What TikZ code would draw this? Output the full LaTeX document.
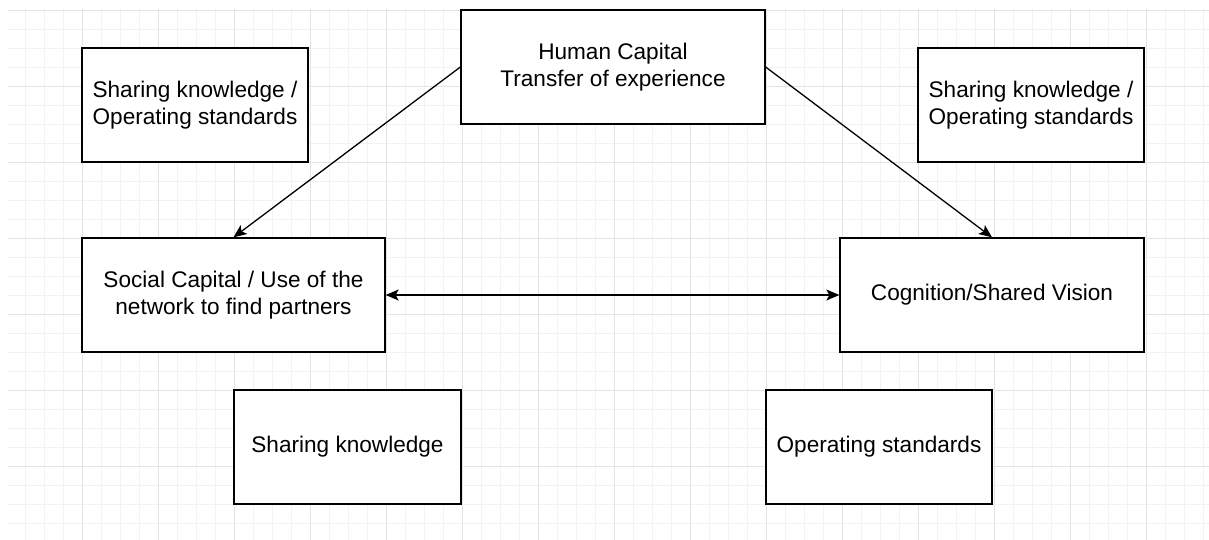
\documentclass[tikz,border=0pt]{standalone}
\usepackage{fontspec}
\setmainfont{Liberation Sans}
\usetikzlibrary{positioning,arrows.meta}
\tikzset{
	>={Stealth[length=13pt,width=11pt,inset=3pt]},
	box/.style={draw, line width=1.3pt, fill=white, align=center, inner sep=0pt, minimum height=114pt,
		font=\fontsize{22.6}{27}\selectfont},
	link/.style={->, line width=1.3pt},
	minorline/.style={draw=black!5, line width=0.9pt},
	majorline/.style={draw=black!11, line width=0.9pt},
}

\begin{document}
\begin{tikzpicture}[x=1pt, y=-1pt]
        \useasboundingbox (0,0) rectangle (1209,540);
        \fill[white] (0,0) rectangle (1209,540);

        \foreach \gx in {25,44,...,1203} \draw[minorline] (\gx,9) -- (\gx,540);
        \foreach \gy in {29,48,...,523} \draw[minorline] (8,\gy) -- (1209,\gy);
        \foreach \gx in {82,158,...,1146} \draw[majorline] (\gx,9) -- (\gx,540);
        \foreach \gy in {10,86,...,466} \draw[majorline] (8,\gy) -- (1209,\gy);

        \node[box, minimum width=304pt] (hc) at (613,67) {Human Capital\\Transfer of experience};
        \node[box, minimum width=226pt] (tl) at (195,105) {Sharing knowledge /\\Operating standards};
        \node[box, minimum width=226pt] (tr) at (1031,105) {Sharing knowledge /\\Operating standards};
        \node[box, minimum width=303pt] (sc) at (233.5,295) {Social Capital / Use of the\\network to find partners};
        \node[box, minimum width=304pt] (cg) at (992,295) {Cognition/Shared Vision};
        \node[box, minimum width=227pt] (sk) at (347.5,447) {Sharing knowledge};
        \node[box, minimum width=226pt] (os) at (879,447) {Operating standards};

        \draw[link] (hc.west) -- (sc.north);
        \draw[link] (hc.east) -- (cg.north);
        \draw[link, <->] (sc.east) -- (cg.west);
    \end{tikzpicture}
\end{document}
